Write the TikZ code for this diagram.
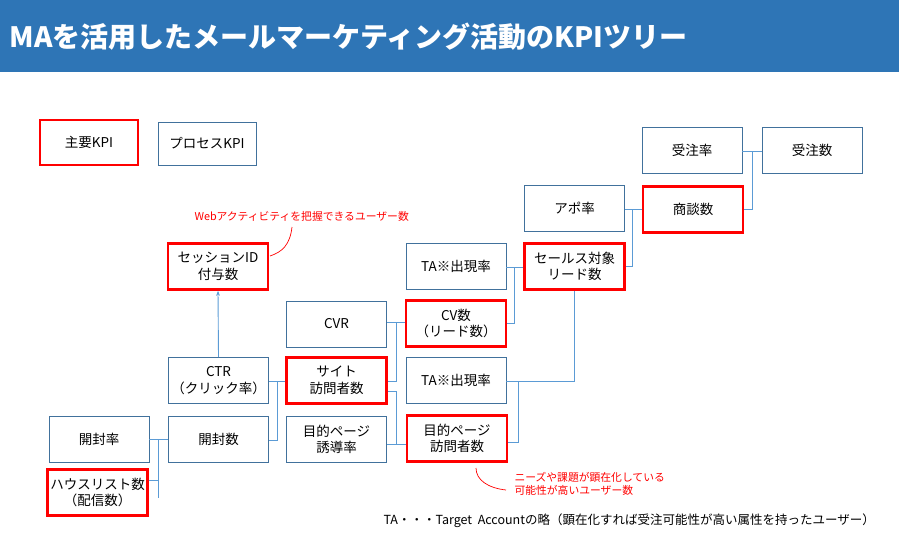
\documentclass[tikz,border=0pt]{standalone}
\usepackage{fontspec}
\setmainfont{Noto Sans CJK JP}
\usetikzlibrary{arrows.meta}
\definecolor{bdr}{RGB}{65,113,156}
\definecolor{conc}{RGB}{91,155,213}
\definecolor{redk}{RGB}{255,0,0}
\definecolor{titlebg}{RGB}{46,117,182}
\begin{document}
\begin{tikzpicture}[x=1pt,y=-1pt,
 box/.style={draw=bdr, line width=0.9pt, minimum width=100pt, minimum height=46pt, align=center, font=\fontsize{13.5}{16.5}\selectfont, inner sep=1pt},
 kpi/.style={box, draw=redk, line width=2.6pt},
 con/.style={draw=conc, line width=0.9pt},
 note/.style={text=redk, font=\fontsize{10.8}{13}\selectfont, align=left},
 nline/.style={draw=redk, line width=0.7pt}]
\useasboundingbox (0,0) rectangle (899,552);
\fill[titlebg] (0,0) rectangle (899,72);
\node[anchor=west, text=white, font=\fontsize{28}{32}\selectfont\bfseries] (title) at (6,37) {MAを活用したメールマーケティング活動のKPIツリー};
\node[kpi, minimum width=98pt, minimum height=45pt] (k1) at (89,142.5) {主要KPI};
\node[box, minimum width=98pt, minimum height=43pt] (k2) at (207,143.5) {プロセスKPI};
\node[box] (jr) at (692,150.5) {受注率};
\node[box] (js) at (812,150) {受注数};
\node[box] (apo) at (574.5,208.5) {アポ率};
\node[kpi] (sd) at (693,209.5) {商談数};
\node[box] (ta1) at (456,266) {TA※出現率};
\node[kpi] (sl) at (574.5,266.5) {セールス対象\\リード数};
\node[kpi] (ses) at (218,266.5) {セッションID\\付与数};
\node[box] (cvr) at (336.5,324) {CVR};
\node[kpi] (cv) at (456,323.5) {CV数\\（リード数）};
\node[box] (ctr) at (218.5,380.5) {CTR\\（クリック率）};
\node[kpi] (site) at (336.5,380.5) {サイト\\訪問者数};
\node[box] (ta2) at (456,380.5) {TA※出現率};
\node[box] (kr) at (99,439.5) {開封率};
\node[box] (ks) at (218.5,439.5) {開封数};
\node[box] (yr) at (336.5,439.5) {目的ページ\\誘導率};
\node[kpi] (yv) at (457,438.5) {目的ページ\\訪問者数};
\node[kpi] (hl) at (97.5,492.5) {ハウスリスト数\\（配信数）};
% connectors
\coordinate (c1) at (158,498);
\draw[con] (kr.east |- 0,439) -- (ks.west |- 0,439);
\draw[con] (158,439) -- (c1);
\draw[con] (hl.east |- 0,480) -- (158,480);
\draw[con] (ctr.east |- 0,381) -- (site.west |- 0,381);
\draw[con] (ks.east |- 0,440) -- (277,440) -- (277,381);
\draw[con] (site.east |- 0,381) -- (396,381) -- (396,322);
\draw[con] (cvr.east |- 0,322) -- (cv.west |- 0,322);
\draw[con] (site.east |- 0,391) -- (396,391) -- (396,444) -- (yv.west |- 0,444);
\draw[con] (yr.east |- 0,444) -- (396,444);
\draw[con] (ta2.east |- 0,381) -- (518,381);
\draw[con] (yv.east |- 0,442) -- (518,442) -- (518,381) -- (sl.south |- 0,381) -- (sl.south);
\draw[con] (ta1.east |- 0,267) -- (sl.west |- 0,267);
\draw[con] (cv.east |- 0,323) -- (514,323) -- (514,267);
\draw[con] (sl.east |- 0,266) -- (632,266) -- (632,209);
\draw[con] (apo.east |- 0,209) -- (sd.west |- 0,209);
\draw[con] (sd.east |- 0,209) -- (752,209) -- (752,151) -- (js.west |- 0,151);
\draw[con] (jr.east |- 0,151) -- (752,151);
\draw[con, -{Stealth[length=5pt]}] (ctr.north) -- (ses.south);
% notes
\node[note, anchor=west] (n1) at (191,216) {Webアクティビティを把握できるユーザー数};
\draw[nline] (292,227) .. controls (290,245) and (282,252) .. (270,256);
\node[note, anchor=west] (n2) at (511,484) {ニーズや課題が顕在化している\\可能性が高いユーザー数};
\draw[nline] (476,468) .. controls (476,480) and (488,488) .. (506,490);
\node[anchor=west, font=\fontsize{12.5}{15}\selectfont] (foot) at (380,521) {TA・・・Target\ \ Accountの略（顕在化すれば受注可能性が高い属性を持ったユーザー）};
\end{tikzpicture}
\end{document}
